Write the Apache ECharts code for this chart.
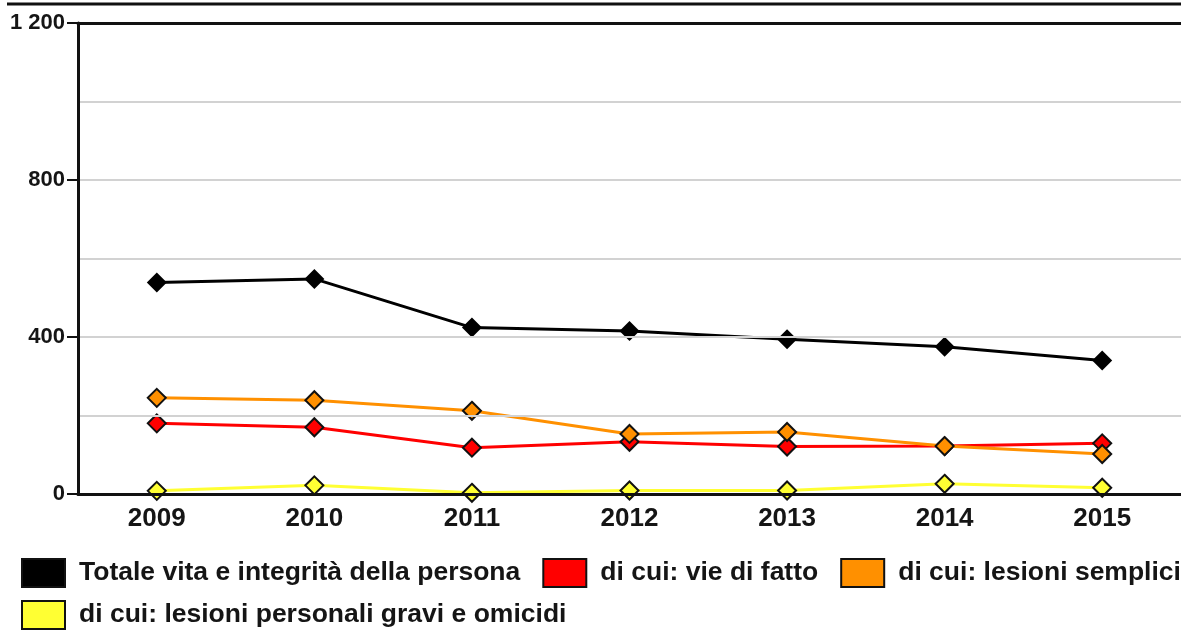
<!DOCTYPE html>
<html>
<head>
<meta charset="utf-8">
<script src="https://cdn.jsdelivr.net/npm/echarts@6/dist/echarts.min.js"></script>
<style>
  html, body { margin: 0; padding: 0; background: #ffffff; }
  #chart { width: 1181px; height: 631px; }
</style>
</head>
<body>
<div id="chart"></div>
<script>
// Years on the horizontal axis
const years = ['2009', '2010', '2011', '2012', '2013', '2014', '2015'];

// Series names (legend text)
const seriesNames = [
  'Totale vita e integrità della persona',
  'di cui: vie di fatto',
  'di cui: lesioni semplici',
  'di cui: lesioni personali gravi e omicidi'
];

// Values per year
const totale = [539, 548, 424, 415, 394, 375, 340];
const vieDiFatto = [180, 170, 118, 133, 121, 122, 129];
const lesioniSemplici = [245, 239, 212, 153, 158, 122, 102];
const lesioniGravi = [8, 22, 3, 9, 9, 26, 16];

// Vertical axis range
const yMin = 0;
const yMax = 1200;
const yStep = 400;

const FONT = '"Liberation Sans", Arial, Helvetica, sans-serif';
const INK = '#151515';

const colors = ['#000000', '#ff0000', '#ff9000', '#ffff33'];
const valueSets = [totale, vieDiFatto, lesioniSemplici, lesioniGravi];

function makeSeries(i) {
  const isTotal = i === 0;
  return {
    name: seriesNames[i],
    type: 'line',
    data: valueSets[i],
    symbol: 'diamond',
    symbolSize: isTotal ? 20 : 18,
    showAllSymbol: true,
    lineStyle: { color: colors[i], width: 3 },
    itemStyle: {
      color: colors[i],
      borderColor: '#111111',
      borderWidth: isTotal ? 0 : 2
    },
    emphasis: { disabled: true },
    z: 3 + i
  };
}

function legendText(padTop) {
  return {
    fontFamily: FONT,
    fontSize: 26.5,
    fontWeight: 'bold',
    color: INK,
    padding: [padTop, 0, 0, 9]
  };
}

const legendCommon = {
  orient: 'horizontal',
  icon: 'rect',
  itemWidth: 43,
  itemHeight: 28,
  itemGap: 22,
  padding: 0,
  selectedMode: false,
  left: 21,
  itemStyle: { borderColor: '#111111', borderWidth: 2 }
};

const chart = echarts.init(document.getElementById('chart'), null, { renderer: 'canvas' });

chart.setOption({
  animation: false,
  backgroundColor: '#ffffff',
  grid: { left: 78, right: -11, top: 23, bottom: 137, containLabel: false },
  legend: [
    Object.assign({}, legendCommon, {
      top: 558,
      data: seriesNames.slice(0, 3),
      textStyle: legendText(18)
    }),
    Object.assign({}, legendCommon, {
      top: 600,
      data: seriesNames.slice(3),
      textStyle: legendText(7)
    })
  ],
  xAxis: [
    {
      type: 'category',
      data: years,
      position: 'bottom',
      boundaryGap: true,
      axisLine: { show: true, lineStyle: { color: '#111111', width: 3 } },
      axisTick: { show: false },
      axisLabel: {
        margin: 12,
        fontFamily: FONT,
        fontSize: 26,
        fontWeight: 'bold',
        color: INK
      },
      splitLine: { show: false },
      z: 10
    },
    {
      type: 'category',
      data: years,
      position: 'top',
      boundaryGap: true,
      axisLine: { show: true, lineStyle: { color: '#111111', width: 3 } },
      axisTick: { show: false },
      axisLabel: { show: false },
      splitLine: { show: false },
      z: 10
    }
  ],
  yAxis: {
    type: 'value',
    min: yMin,
    max: yMax,
    interval: yStep,
    axisLine: { show: true, lineStyle: { color: '#111111', width: 3 } },
    axisTick: { show: true, length: 11, lineStyle: { color: '#111111', width: 2 } },
    axisLabel: {
      margin: 13,
      fontFamily: FONT,
      fontSize: 22,
      fontWeight: 'bold',
      color: INK,
      formatter: function (v) {
        return String(v).replace(/\B(?=(\d{3})+(?!\d))/g, ' ');
      }
    },
    splitLine: { show: true, lineStyle: { color: '#d2d2d2', width: 2 } },
    minorTick: { show: false, splitNumber: 2 },
    minorSplitLine: { show: true, lineStyle: { color: '#d2d2d2', width: 2 } },
    z: 10
  },
  graphic: [
    {
      type: 'line',
      shape: { x1: 7, y1: 4, x2: 1181, y2: 4 },
      style: { stroke: '#111111', lineWidth: 3 },
      silent: true
    }
  ],
  series: [0, 1, 2, 3].map(makeSeries)
});
</script>
</body>
</html>
